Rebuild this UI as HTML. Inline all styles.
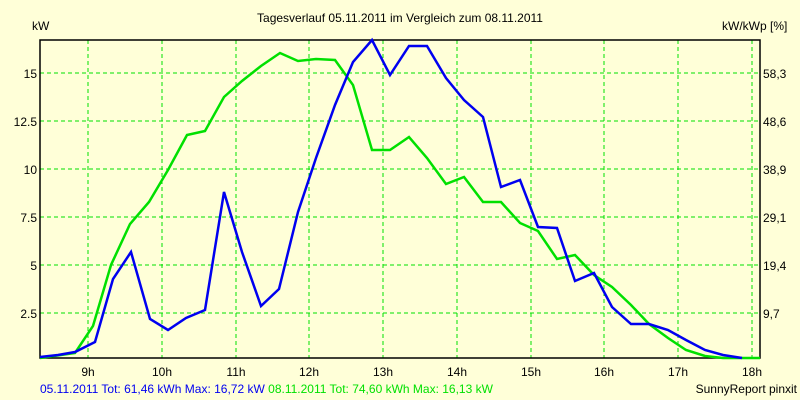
<!DOCTYPE html>
<html><head><style>
body{margin:0;background:#ffffd8;}
svg{display:block;font-family:"Liberation Sans",sans-serif;font-size:12px;}
</style></head><body>
<svg width="800" height="400" xmlns="http://www.w3.org/2000/svg">
<rect width="800" height="400" fill="#ffffd8"/>
<text x="400" y="22" text-anchor="middle" fill="#000">Tagesverlauf 05.11.2011 im Vergleich zum 08.11.2011</text>
<text x="32" y="30" fill="#000">kW</text>
<text x="722" y="30" fill="#000">kW/kWp [%]</text>
<g stroke="#00e000" stroke-dasharray="4,3" stroke-width="1">
<line x1="88" y1="40" x2="88" y2="358"/><line x1="162" y1="40" x2="162" y2="358"/><line x1="236" y1="40" x2="236" y2="358"/><line x1="309" y1="40" x2="309" y2="358"/><line x1="383" y1="40" x2="383" y2="358"/><line x1="457" y1="40" x2="457" y2="358"/><line x1="531" y1="40" x2="531" y2="358"/><line x1="604" y1="40" x2="604" y2="358"/><line x1="678" y1="40" x2="678" y2="358"/><line x1="752" y1="40" x2="752" y2="358"/>
<line x1="40" y1="73" x2="760" y2="73"/><line x1="40" y1="121" x2="760" y2="121"/><line x1="40" y1="169" x2="760" y2="169"/><line x1="40" y1="217" x2="760" y2="217"/><line x1="40" y1="265" x2="760" y2="265"/><line x1="40" y1="313" x2="760" y2="313"/>
</g>
<rect x="40" y="40" width="720" height="318" fill="none" stroke="#000" stroke-width="1.5"/>
<g text-anchor="end" fill="#000">
<text x="37" y="78">15</text><text x="37" y="126">12.5</text><text x="37" y="174">10</text><text x="37" y="222">7.5</text><text x="37" y="270">5</text><text x="37" y="318">2.5</text>
</g>
<g fill="#000">
<text x="763" y="78">58,3</text><text x="763" y="126">48,6</text><text x="763" y="174">38,9</text><text x="763" y="222">29,1</text><text x="763" y="270">19,4</text><text x="763" y="318">9,7</text>
</g>
<g text-anchor="middle" fill="#000">
<text x="88" y="376">9h</text><text x="162" y="376">10h</text><text x="236" y="376">11h</text><text x="309" y="376">12h</text><text x="383" y="376">13h</text><text x="457" y="376">14h</text><text x="531" y="376">15h</text><text x="604" y="376">16h</text><text x="678" y="376">17h</text><text x="752" y="376">18h</text>
</g>
<polyline fill="none" stroke="#00e000" stroke-width="2.5" points="40,358 75,353 93,326 111,265 130,224 149,202 168,170 187,135 205,131 224,97 242,81 261,66 280,53 298,61 316,59 335,60 353,85 372,150 390,150 409,137 427,158 446,184 464,177 483,202 501,202 520,223 538,231 557,259 575,255 594,275 612,287 631,305 649,324 668,338 686,350 705,356 723,358 760,358"/>
<polyline fill="none" stroke="#0000f0" stroke-width="2.5" points="40,357 58,355 75,352 95,342 113,279 131,252 150,319 168,330 186,318 205,310 224,192 242,252 261,306 279,289 298,212 316,158 335,105 353,62 372,40 390,75 409,46 427,46 446,78 464,100 483,117 501,187 520,180 538,227 557,228 575,281 594,273 612,307 631,324 649,324 668,330 686,340 705,350 723,355 742,358"/>
<text x="40" y="393" fill="#0000f0">05.11.2011 Tot: 61,46 kWh Max: 16,72 kW <tspan fill="#00e000">08.11.2011 Tot: 74,60 kWh Max: 16,13 kW</tspan></text>
<text x="797" y="393" text-anchor="end" fill="#000">SunnyReport pinxit</text>
</svg>
</body></html>
